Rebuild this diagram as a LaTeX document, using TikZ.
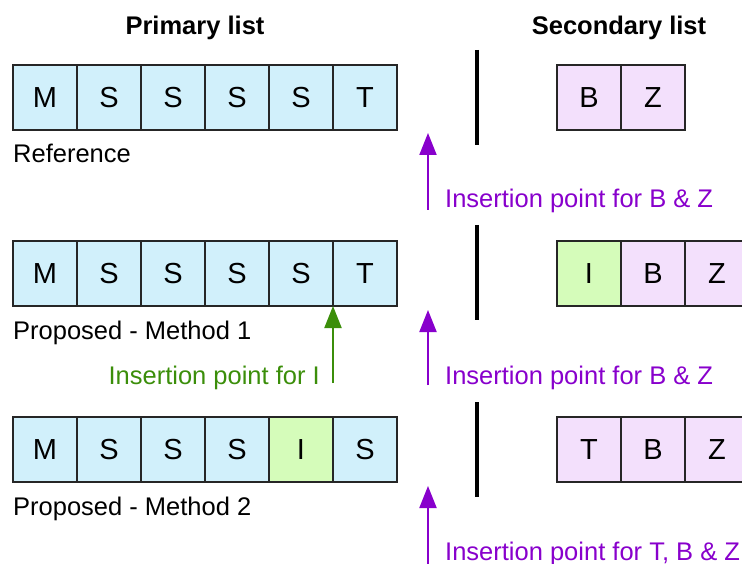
\documentclass[tikz,border=0pt]{standalone}
\usepackage{fontspec}
\setmainfont{Liberation Sans}
\usetikzlibrary{arrows.meta}
\definecolor{primfill}{HTML}{D1F0FB}
\definecolor{secfill}{HTML}{F3E0FC}
\definecolor{newfill}{HTML}{D5FCBA}
\definecolor{secarrow}{HTML}{8800CC}
\definecolor{newarrow}{HTML}{3B8E0A}
\tikzset{
  cell/.style={draw=black!85, line width=1.2pt, minimum width=64pt, minimum height=65pt,
    inner sep=0pt, outer sep=0pt, anchor=north west, font=\fontsize{29}{34}\selectfont},
  prim/.style={cell, fill=primfill},
  sec/.style={cell, fill=secfill},
  new/.style={cell, fill=newfill},
  rowtext/.style={anchor=base west, inner sep=0pt, font=\fontsize{25.5}{30}\selectfont},
  inspoint/.style={-{Triangle[width=17pt,length=22pt]}, line width=2pt},
  divider/.style={line width=4pt}
}
\begin{document}
\begin{tikzpicture}[x=1pt, y=-1pt]
  \useasboundingbox (0, 0) rectangle (742, 564);
  \node[anchor=base, font=\bfseries\fontsize{25.5}{30}\selectfont] (primtitle) at (195, 35) {Primary list};
  \node[anchor=base, font=\bfseries\fontsize{25.5}{30}\selectfont] (sectitle) at (619, 35) {Secondary list};
  % reference
  \node[prim] (a1) at (13, 65) {M};
  \node[prim] (a2) at (77, 65) {S};
  \node[prim] (a3) at (141, 65) {S};
  \node[prim] (a4) at (205, 65) {S};
  \node[prim] (a5) at (269, 65) {S};
  \node[prim] (a6) at (333, 65) {T};
  \node[sec] (as1) at (557, 65) {B};
  \node[sec] (as2) at (621, 65) {Z};
  \node[rowtext] (aname) at (13, 163) {Reference};
  \draw[divider] (477, 50) -- (477, 145);
  \coordinate (apt) at (428, 133);
  \coordinate (apb) at (428, 210);
  \draw[inspoint, secarrow] (apb) -- (apt);
  \node[rowtext, text=secarrow] (atext) at (445, 208) {Insertion point for B \& Z};
  % method 1
  \node[prim] (b1) at (13, 241) {M};
  \node[prim] (b2) at (77, 241) {S};
  \node[prim] (b3) at (141, 241) {S};
  \node[prim] (b4) at (205, 241) {S};
  \node[prim] (b5) at (269, 241) {S};
  \node[prim] (b6) at (333, 241) {T};
  \node[new] (bs1) at (557, 241) {I};
  \node[sec] (bs2) at (621, 241) {B};
  \node[sec] (bs3) at (685, 241) {Z};
  \node[rowtext] (bname) at (13, 339) {Proposed - Method 1};
  \draw[divider] (477, 225) -- (477, 320);
  \coordinate (bpb) at (428, 385);
  \coordinate (bpt) at (428, 310);
  \draw[inspoint, secarrow] (bpb) -- (bpt);
  \node[rowtext, text=secarrow] (btext) at (445, 384) {Insertion point for B \& Z};
  \coordinate (bnb) at ([yshift=-77pt]b5.south east);
  \draw[inspoint, newarrow] (bnb) -- (b5.south east);
  \node[rowtext, anchor=base east, text=newarrow] (bnew) at (320, 384) {Insertion point for I};
  % method 2
  \node[prim] (c1) at (13, 417) {M};
  \node[prim] (c2) at (77, 417) {S};
  \node[prim] (c3) at (141, 417) {S};
  \node[prim] (c4) at (205, 417) {S};
  \node[new] (c5) at (269, 417) {I};
  \node[prim] (c6) at (333, 417) {S};
  \node[sec] (cs1) at (557, 417) {T};
  \node[sec] (cs2) at (621, 417) {B};
  \node[sec] (cs3) at (685, 417) {Z};
  \node[rowtext] (cname) at (13, 515) {Proposed - Method 2};
  \draw[divider] (477, 402) -- (477, 497);
  \coordinate (cpb) at (428, 564);
  \coordinate (cpt) at (428, 486);
  \draw[inspoint, secarrow] (cpb) -- (cpt);
  \node[rowtext, text=secarrow] (ctext) at (445, 560) {Insertion point for T, B \& Z};
\end{tikzpicture}
\end{document}
